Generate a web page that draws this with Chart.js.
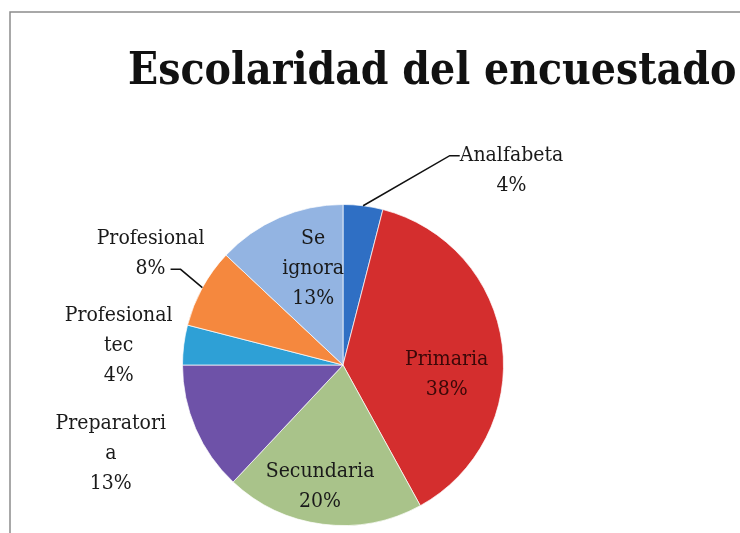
<!DOCTYPE html>
<html>
<head>
<meta charset="utf-8">
<script src="https://cdn.jsdelivr.net/npm/chart.js@4"></script>
<style>
  html, body { margin: 0; padding: 0; background: #fff; overflow: hidden; }
  #wrap { width: 740px; height: 533px; }
</style>
</head>
<body>
<div id="wrap"><canvas id="pie-chart" width="740" height="533"></canvas></div>
<script>
// datos (porcentajes)
var categorias = ['Analfabeta', 'Primaria', 'Secundaria', 'Preparatoria', 'Profesional tec', 'Profesional', 'Se ignora'];
var porcentajes = [4, 38, 20, 13, 4, 8, 13];
// como aparecen partidas en la grafica original
var etiquetas = [['Analfabeta'], ['Primaria'], ['Secundaria'], ['Preparatori', 'a'], ['Profesional', 'tec'], ['Profesional'], ['Se', 'ignora']];
var colores = ['#2f6fc4', '#d42e2e', '#a9c38a', '#6e52a8', '#2ea0d6', '#f5883e', '#93b4e2'];

// posicion de cada etiqueta, en radios respecto al centro del pastel
var posEtiqueta = [[1.05, -1.211], [0.646, 0.062], [-0.143, 0.758], [-1.447, 0.553], [-1.398, -0.124], [-1.199, -0.696], [-0.186, -0.602]];
// lineas guia: codo (en radios) y extremo horizontal
var guias = {0: {codo: [0.665, -1.304], fin: 10}, 5: {codo: [-1.012, -0.596], fin: -10}};

var etiquetasPlugin = {
  id: 'etiquetas',
  beforeDraw: function(chart) {
    var ctx = chart.ctx;
    ctx.save();
    ctx.fillStyle = '#fff';
    ctx.fillRect(0, 0, chart.width, chart.height);
    // marco
    ctx.strokeStyle = '#8c8c8c';
    ctx.lineWidth = 1.5;
    ctx.beginPath();
    ctx.moveTo(10, chart.height);
    ctx.lineTo(10, 12);
    ctx.lineTo(chart.width, 12);
    ctx.stroke();
    // titulo
    ctx.fillStyle = '#111';
    ctx.font = 'bold 44px "DejaVu Serif Condensed", "Liberation Serif", serif';
    ctx.textAlign = 'left';
    ctx.textBaseline = 'alphabetic';
    ctx.fillText('Escolaridad del encuestado', 128, 84);
    ctx.restore();
  },
  afterDatasetsDraw: function(chart) {
    var ctx = chart.ctx;
    var meta = chart.getDatasetMeta(0);
    var total = porcentajes.reduce(function(a, b) { return a + b; }, 0);
    ctx.save();
    ctx.font = '21px "DejaVu Serif Condensed", "Liberation Serif", serif';
    ctx.textAlign = 'center';
    ctx.textBaseline = 'middle';
    meta.data.forEach(function(arc, i) {
      var cx = arc.x, cy = arc.y, r = arc.outerRadius;
      var lineas = etiquetas[i].concat([Math.round(porcentajes[i] / total * 100) + '%']);
      var lx = cx + posEtiqueta[i][0] * r;
      var ly = cy + posEtiqueta[i][1] * r;
      var alto = 30;
      ctx.fillStyle = i === 1 ? '#3b0808' : '#1a1a1a';
      lineas.forEach(function(t, k) {
        ctx.fillText(t, lx, ly + (k - (lineas.length - 1) / 2) * alto);
      });
      if (guias[i]) {
        var mid = (arc.startAngle + arc.endAngle) / 2;
        var sx = cx + Math.cos(mid) * r;
        var sy = cy + Math.sin(mid) * r;
        var ex = cx + guias[i].codo[0] * r;
        var ey = cy + guias[i].codo[1] * r;
        ctx.strokeStyle = '#111';
        ctx.lineWidth = 1.5;
        ctx.beginPath();
        ctx.moveTo(sx, sy);
        ctx.lineTo(ex, ey);
        ctx.lineTo(ex + guias[i].fin, ey);
        ctx.stroke();
      }
    });
    ctx.restore();
  }
};

new Chart(document.getElementById('pie-chart'), {
  type: 'pie',
  data: {
    labels: categorias,
    datasets: [{
      data: porcentajes,
      backgroundColor: colores,
      borderColor: 'rgba(255,255,255,0.7)',
      borderWidth: 1
    }]
  },
  options: {
    responsive: false,
    animation: false,
    layout: { padding: { left: 182, right: 236, top: 204, bottom: 7 } },
    plugins: {
      legend: { display: false },
      title: { display: false },
      tooltip: { enabled: false }
    }
  },
  plugins: [etiquetasPlugin]
});
</script>
</body>
</html>
